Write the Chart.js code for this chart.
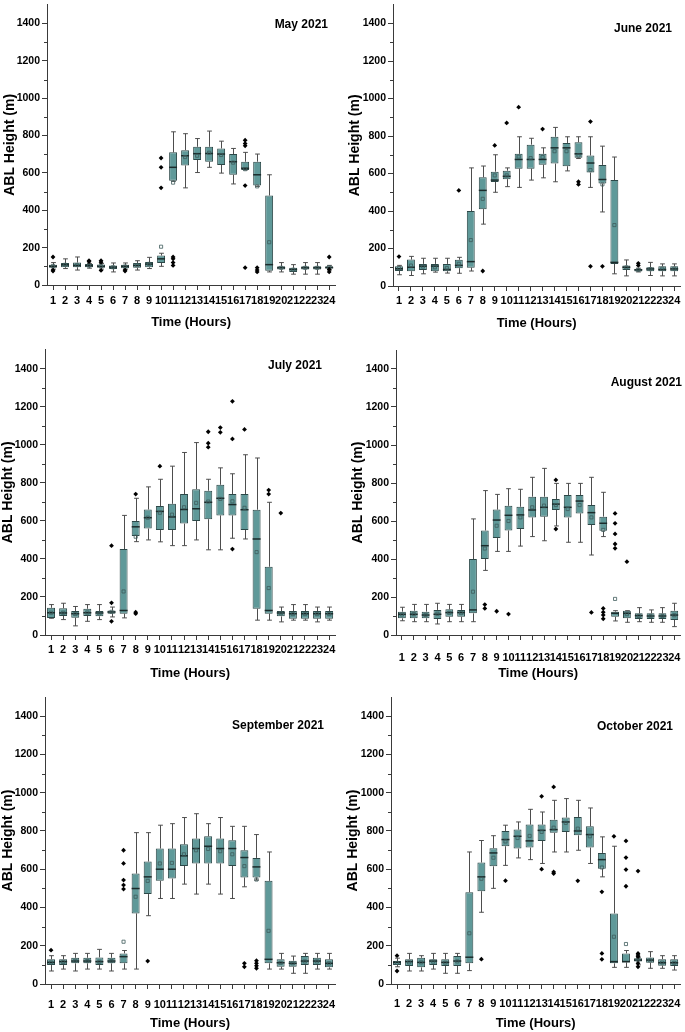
<!DOCTYPE html>
<html>
<head>
<meta charset="utf-8">
<script src="https://cdn.jsdelivr.net/npm/chart.js@4.4.1/dist/chart.umd.min.js"></script>
<style>
  html, body { margin: 0; padding: 0; background: #fff; overflow: hidden; }
  body { position: relative; width: 685px; height: 1032px; }
</style>
</head>
<body>
<script>
// hours on the x axis
const hours = ['1','2','3','4','5','6','7','8','9','10','11','12','13','14','15','16','17','18','19','20','21','22','23','24'];
const yTicks = [0, 200, 400, 600, 800, 1000, 1200, 1400];
const yMinor = [100, 300, 500, 700, 900, 1100, 1300];

// each box: [lower whisker, Q1, median, Q3, upper whisker]
const mayBox = [
  [85,92,100,108,120],[88,95,108,118,140],[80,95,105,120,150],[90,95,103,112,115],[85,93,100,110,115],[70,85,96,105,118],
  [85,90,100,108,118],[80,92,105,118,130],[88,95,112,123,148],[100,118,140,158,170],[555,558,630,710,820],[520,640,692,722,810],
  [602,669,703,740,784],[630,660,704,740,824],[599,643,701,731,770],[541,590,660,701,731],[616,616,625,660,710],[528,532,590,660,701],
  [70,76,109,479,590],[70,83,92,100,120],[58,70,83,92,109],[58,83,92,100,120],[58,83,92,100,120],[80,88,93,100,105]
];
const mayMean = [102,108,107,104,101,95,99,106,113,205,548,685,692,708,696,655,620,528,229,92,82,92,92,95];
const mayOut = [[150,80,75],[],[],[130,125],[130,122,78],[],[80,75],[],[],[680,630,520],[150,140,120,105],[],
  [],[],[],[],[775,757,745,532,93],[93,80,70],[],[],[],[],[],[150,83,70]];

const juneBox = [
  [60,80,92,106,110],[56,79,100,141,158],[65,86,106,118,148],[74,79,106,118,148],[69,79,88,118,148],[68,95,110,140,153],
  [80,98,130,400,630],[330,410,510,580,640],[500,555,565,610,700],[530,570,585,615,630],[526,626,675,705,796],[565,626,675,754,788],
  [577,647,675,705,737],[556,653,737,796,846],[614,639,737,763,796],[680,684,705,767,796],[526,605,656,696,796],[395,547,568,646,746],
  [65,118,126,565,688],[54,86,100,109,139],[75,78,86,92,95],[56,79,91,100,126],[54,79,88,105,118],[54,79,91,105,118]
];
const juneMean = [95,109,104,100,95,118,245,465,590,590,690,682,688,719,719,696,618,542,325,99,86,90,92,92];
const juneOut = [[157],[],[],[],[],[510],[],[80],[750],[870],[954],[],
  [837],[],[],[556,542],[877,105],[105],[],[],[121,110],[],[],[]];

const julyBox = [
  [88,90,117,143,160],[81,100,116,141,167],[48,91,112,126,150],[72,100,117,138,160],[81,98,116,126,160],[95,112,121,129,147],
  [90,112,129,452,629],[491,521,569,600,719],[500,560,617,660,779],[490,552,650,678,819],[470,552,621,690,888],[470,586,660,741,960],
  [500,600,664,767,1012],[448,609,698,759,819],[448,629,719,790,879],[509,629,686,741,848],[505,552,659,741,948],[78,138,505,659,931],
  [78,112,129,359,698],[69,98,116,126,147],[78,86,112,126,160],[78,86,112,126,160],[69,86,112,126,147],[78,86,112,126,147]
];
const julyMean = [117,117,110,118,113,122,229,517,617,643,633,672,695,702,716,703,669,436,247,114,110,110,110,110];
const julyOut = [[],[],[],[],[],[470,169,72],[],[741,120,112],[],[888],[],[],
  [],[1069,1009,988],[1091,1066],[1229,1031,452],[1081],[],[762,741],[641],[],[],[],[]];

const augBox = [
  [75,88,109,123,146],[70,88,109,128,161],[70,88,105,123,161],[58,84,109,132,167],[70,96,118,135,161],[70,96,118,132,161],
  [70,114,132,400,611],[340,400,470,550,760],[440,510,605,660,740],[440,550,630,680,770],[468,558,632,675,767],[518,619,658,728,830],
  [496,623,672,728,877],[574,658,689,716,798],[488,618,672,737,798],[488,640,705,737,798],[421,579,644,684,830],[518,549,588,623,751],
  [74,96,114,123,128],[67,88,114,128,128],[70,84,102,114,144],[67,84,100,114,132],[67,84,100,114,144],[44,79,105,128,167]
];
const augMean = [108,110,106,112,117,115,228,455,575,600,619,672,681,684,663,684,619,553,190,110,100,100,100,104];
const augOut = [[],[],[],[],[],[],[],[160,140],[125],[110],[],[],
  [],[816,558],[],[],[119],[140,120,105,85],[640,588,532,479,456],[386],[],[],[],[]];

const sepBox = [
  [68,99,113,129,148],[78,99,117,130,148],[68,108,120,137,160],[78,108,120,137,160],[78,99,117,139,181],[68,108,120,137,160],
  [78,108,143,160,175],[78,369,499,577,791],[357,470,560,640,791],[447,539,600,708,830],[447,551,600,708,838],[522,617,670,730,870],
  [470,630,708,760,890],[522,630,720,772,838],[470,630,708,760,870],[447,617,708,751,824],[508,557,661,699,824],[543,557,612,659,781],
  [78,108,129,539,690],[78,90,111,129,160],[56,90,108,122,146],[56,99,120,146,160],[78,99,120,137,160],[78,87,108,129,160]
];
const sepMean = [113,115,121,120,116,120,221,456,539,630,633,678,699,706,694,678,616,546,278,111,108,118,118,108];
const sepOut = [[177],[],[],[],[],[],[699,630,543,517,496],[],[120],[],[],[],
  [],[],[],[],[108,90],[122,108,95,82],[],[],[],[],[],[]];

const octBox = [
  [90,99,113,120,135],[68,94,117,130,160],[68,87,113,137,148],[78,99,120,130,160],[56,94,113,129,160],[56,94,120,146,160],
  [70,108,140,480,690],[375,485,560,635,750],[500,615,685,710,775],[620,720,755,800,830],[659,708,772,807,847],[650,713,748,833,913],
  [630,748,803,833,899],[690,790,807,859,960],[690,795,847,870,969],[699,777,800,873,960],[630,713,781,824,920],[560,603,650,685,769],
  [87,108,117,369,720],[87,113,117,160,175],[100,117,125,134,140],[82,111,125,139,169],[82,96,111,130,148],[73,94,111,129,148]
];
const octMean = [110,113,113,117,112,118,265,550,660,745,763,774,795,817,842,812,772,609,247,209,127,124,112,111];
const octOut = [[148,68],[],[],[],[],[],[],[130],[],[540],[],[],
  [981,600],[1030,586,577],[],[539],[],[482,160,129],[772],[748,661,598,511],[590,160,151,143,108,90],[],[],[]];

const FAMILY = 'Arial, "Liberation Sans", sans-serif';
const BOX_FILL = '#5f9999';
const BOX_EDGE = '#2c4848';
const WHISKER = '#4d4d4d';
const MEDIAN = '#1b2b2b';
const MEAN_C = '#3f5c5c';
const AXIS_C = '#3a3a3a';

// layout of the six panels (page pixels)
const panels = [
  { title: 'May 2021', box: mayBox, mean: mayMean, out: mayOut, left: 0, top: 0, areaL: 47, areaR: 337, areaT: 1, areaB: 285, tX: 328, tY: 25, yTitleX: 10, lblDy: 15, xTitleDy: 37 },
  { title: 'June 2021', box: juneBox, mean: juneMean, out: juneOut, left: 345, top: 0, areaL: 393, areaR: 681, areaT: 1, areaB: 286, tX: 672, tY: 29, yTitleX: 10, lblDy: 14, xTitleDy: 37 },
  { title: 'July 2021', box: julyBox, mean: julyMean, out: julyOut, left: 0, top: 345, areaL: 45, areaR: 337, areaT: 345, areaB: 635, tX: 322, tY: 366, yTitleX: 8, lblDy: 14, xTitleDy: 38 },
  { title: 'August 2021', box: augBox, mean: augMean, out: augOut, left: 345, top: 345, areaL: 396, areaR: 682, areaT: 350, areaB: 635, tX: 682, tY: 383, yTitleX: 13, lblDy: 22, xTitleDy: 38 },
  { title: 'September 2021', box: sepBox, mean: sepMean, out: sepOut, left: 0, top: 690, areaL: 45, areaR: 335, areaT: 697, areaB: 984, tX: 324, tY: 726, yTitleX: 8, lblDy: 20, xTitleDy: 39 },
  { title: 'October 2021', box: octBox, mean: octMean, out: octOut, left: 345, top: 690, areaL: 391, areaR: 684, areaT: 697, areaB: 984, tX: 673, tY: 727, yTitleX: 8, lblDy: 19, xTitleDy: 39 }
];

function makePanel(p) {
  const w = 340;
  const xH = 50;
  const h = p.areaB - p.top + xH;
  const c = document.createElement('canvas');
  c.width = w; c.height = h;
  c.style.cssText = 'position:absolute;left:' + p.left + 'px;top:' + p.top + 'px;width:' + w + 'px;height:' + h + 'px';
  document.body.appendChild(c);

  const outPts = [];
  p.out.forEach((vals, i) => vals.forEach(v => outPts.push({ x: hours[i], y: v })));

  // whiskers, medians, minor ticks and the panel title
  const parts = {
    id: 'boxParts',
    beforeDatasetDraw(chart, args) {
      if (args.index !== 0) return;
      const ctx = chart.ctx, ys = chart.scales.y;
      ctx.save();
      ctx.strokeStyle = WHISKER;
      ctx.lineWidth = 1;
      chart.getDatasetMeta(0).data.forEach((bar, i) => {
        const [lo, q1, , q3, hi] = p.box[i];
        const x = Math.round(bar.x) + 0.5, cap = bar.width * 0.3;
        const yLo = ys.getPixelForValue(lo), yHi = ys.getPixelForValue(hi);
        ctx.beginPath();
        ctx.moveTo(x, ys.getPixelForValue(q3)); ctx.lineTo(x, yHi);
        ctx.moveTo(x - cap, yHi); ctx.lineTo(x + cap, yHi);
        ctx.moveTo(x, ys.getPixelForValue(q1)); ctx.lineTo(x, yLo);
        ctx.moveTo(x - cap, yLo); ctx.lineTo(x + cap, yLo);
        ctx.stroke();
      });
      ctx.restore();
    },
    afterDatasetDraw(chart, args) {
      if (args.index !== 0) return;
      const ctx = chart.ctx, ys = chart.scales.y;
      ctx.save();
      ctx.strokeStyle = MEDIAN;
      ctx.lineWidth = 1.5;
      chart.getDatasetMeta(0).data.forEach((bar, i) => {
        const ym = ys.getPixelForValue(p.box[i][2]);
        ctx.beginPath();
        ctx.moveTo(bar.x - bar.width / 2, ym);
        ctx.lineTo(bar.x + bar.width / 2, ym);
        ctx.stroke();
      });
      ctx.restore();
    },
    afterDraw(chart) {
      const ctx = chart.ctx, ys = chart.scales.y;
      ctx.save();
      ctx.strokeStyle = AXIS_C;
      ctx.lineWidth = 1;
      const x0 = chart.chartArea.left;
      yMinor.forEach(v => {
        const y = Math.round(ys.getPixelForValue(v)) + 0.5;
        ctx.beginPath(); ctx.moveTo(x0 - 3, y); ctx.lineTo(x0, y); ctx.stroke();
      });
      ctx.fillStyle = '#000';
      ctx.font = 'bold 12px ' + FAMILY;
      ctx.textAlign = 'right';
      ctx.textBaseline = 'middle';
      ctx.fillText(p.title, p.tX - p.left, p.tY - p.top);
      ctx.restore();
    }
  };

  new Chart(c, {
    type: 'bar',
    data: {
      labels: hours,
      datasets: [
        {
          type: 'bar',
          data: p.box.map(b => [b[1], b[3]]),
          backgroundColor: BOX_FILL,
          borderColor: BOX_EDGE,
          borderWidth: 1,
          borderSkipped: false,
          barPercentage: 0.66,
          categoryPercentage: 1,
          order: 3
        },
        {
          type: 'line',
          data: p.mean,
          showLine: false,
          pointStyle: 'rect',
          pointRadius: 2.2,
          pointBorderWidth: 0.8,
          pointBorderColor: MEAN_C,
          pointBackgroundColor: 'rgba(0,0,0,0)',
          order: 1
        },
        {
          type: 'line',
          data: outPts,
          showLine: false,
          pointStyle: 'rectRot',
          pointRadius: 2.4,
          pointBorderWidth: 0,
          pointBackgroundColor: '#000',
          pointBorderColor: '#000',
          order: 0
        }
      ]
    },
    options: {
      responsive: false,
      animation: false,
      events: [],
      layout: { padding: { left: 0, right: w - (p.areaR - p.left), top: p.areaT - p.top, bottom: 0 } },
      plugins: { legend: { display: false }, tooltip: { enabled: false } },
      scales: {
        x: {
          offset: true,
          grid: { display: true, drawOnChartArea: false, offset: false, tickLength: 5, color: AXIS_C },
          border: { color: AXIS_C, width: 1 },
          ticks: { font: { family: FAMILY, size: 11, weight: 'bold' }, color: '#000', autoSkip: false, maxRotation: 0, padding: Math.max(0, p.lblDy - 11) },
          title: { display: true, text: 'Time (Hours)', color: '#000', font: { family: FAMILY, size: 13, weight: 'bold' }, padding: { top: 0, bottom: Math.max(0, xH - p.xTitleDy - 8) } },
          afterFit: s => { s.height = xH; s.paddingLeft = 0; s.paddingRight = 0; }
        },
        y: {
          min: 0,
          max: 1500,
          afterBuildTicks: s => { s.ticks = yTicks.map(v => ({ value: v })); },
          grid: { display: true, drawOnChartArea: false, tickLength: 5, color: AXIS_C },
          border: { color: AXIS_C, width: 1 },
          ticks: { font: { family: FAMILY, size: 10.5, weight: 'bold' }, color: '#000', padding: 2, callback: v => String(v) },
          title: { display: true, text: 'ABL Height (m)', color: '#000', font: { family: FAMILY, size: 14, weight: 'bold' }, padding: { top: Math.max(0, p.yTitleX - 8.4), bottom: 0 } },
          afterFit: s => { s.width = p.areaL - p.left; s.paddingTop = 0; s.paddingBottom = 0; }
        }
      }
    },
    plugins: [parts]
  });
}

panels.forEach(makePanel);
</script>
</body>
</html>
